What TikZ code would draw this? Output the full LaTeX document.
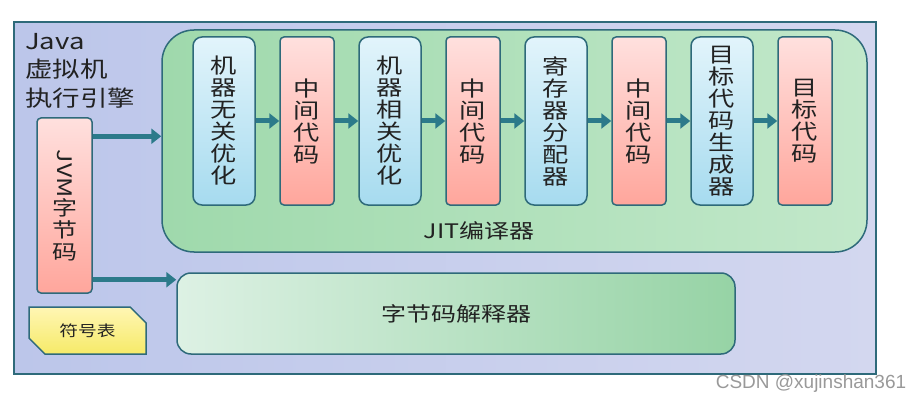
\documentclass[tikz,border=0pt]{standalone}
\usepackage{fontspec}
\usepackage{graphicx}
\setmainfont{Noto Sans CJK SC}[FakeStretch=1.25]
\newfontfamily\markfont{Liberation Sans}
\usetikzlibrary{arrows.meta,positioning,shapes.misc}

\definecolor{edgeteal}{HTML}{2E6A7A}
\definecolor{flowteal}{HTML}{2C7A8A}
\definecolor{engineL}{HTML}{BCC6EA}
\definecolor{engineR}{HTML}{D3D7EF}
\definecolor{jitL}{HTML}{9FD9AC}
\definecolor{jitR}{HTML}{C2E8CA}
\definecolor{pinkT}{HTML}{FFE0DE}
\definecolor{pinkB}{HTML}{FFA69C}
\definecolor{blueT}{HTML}{E2F4FB}
\definecolor{blueB}{HTML}{A6DBEF}
\definecolor{interpL}{HTML}{DDF1E4}
\definecolor{interpR}{HTML}{96D3A5}
\definecolor{symT}{HTML}{FFF6B4}
\definecolor{symB}{HTML}{F6EA68}
\definecolor{inktext}{HTML}{222222}

\begin{document}
\begin{tikzpicture}[
  x=1pt, y=-1pt,
  flow/.style={-{Triangle[length=10pt,width=15pt]}, line width=5pt, draw=flowteal},
  frame/.style={draw=edgeteal, line width=1.5pt, inner sep=0pt},
  stage/.style={frame, rounded corners=9pt, top color=blueT, bottom color=blueB,
                minimum width=62pt, minimum height=168pt, align=center,
                text=inktext, font=\fontsize{21}{22}\selectfont},
  code/.style={stage, rounded corners=4pt, top color=pinkT, bottom color=pinkB,
               minimum width=54pt},
  lab/.style={text=inktext, inner sep=0pt, font=\fontsize{20}{22}\selectfont}
]
\useasboundingbox (0,0) rectangle (922,404);

% ---------------------------------------------------------------------------
% Execution engine frame and the two paths
% ---------------------------------------------------------------------------
\node[frame, left color=engineL, right color=engineR,
      minimum width=862pt, minimum height=352pt] (engine) at (445,198) {};

\node[lab, anchor=north west, align=left, font=\fontsize{22}{28.5}\selectfont]
  (title) at (25,33) {Java\\虚拟机\\执行引擎};

\node[frame, rounded corners=32pt, left color=jitL, right color=jitR,
      minimum width=705pt, minimum height=222pt] (jit) at (514.5,141) {};
\node[lab] (jitname) at (479,231) {JIT编译器};

\node[frame, rounded corners=14pt, left color=interpL, right color=interpR,
      minimum width=558pt, minimum height=81pt, lab] (interp) at (456,313.5) {字节码解释器};

\node[code, minimum width=55pt, minimum height=175pt, font=\fontsize{20}{22}\selectfont]
  (jvm) at (64.5,205.5) {\rotatebox{-90}{JVM}\\字\\节\\码};

\node[frame, chamfered rectangle, chamfered rectangle corners={north east,south west},
      chamfered rectangle xsep=9pt, chamfered rectangle ysep=9pt,
      top color=symT, bottom color=symB, minimum width=117pt, minimum height=47pt,
      text=inktext, font=\fontsize{15}{17}\selectfont] (symtab) at (87.5,330.5) {符号表};

% ---------------------------------------------------------------------------
% JIT compiler stages
% ---------------------------------------------------------------------------
\node[stage] (b1) at (224,121) {机\\器\\无\\关\\优\\化};
\node[code, right=23.5pt of b1] (b2) {中\\间\\代\\码};
\node[stage, right=23.5pt of b2] (b3) {机\\器\\相\\关\\优\\化};
\node[code, right=23.5pt of b3] (b4) {中\\间\\代\\码};
\node[stage, right=23.5pt of b4] (b5) {寄\\存\\器\\分\\配\\器};
\node[code, right=23.5pt of b5] (b6) {中\\间\\代\\码};
\node[stage, right=23.5pt of b6] (b7) {目\\标\\代\\码\\生\\成\\器};
\node[code, right=23.5pt of b7] (b8) {目\\标\\代\\码};

% ---------------------------------------------------------------------------
% Arrows
% ---------------------------------------------------------------------------
\draw[flow] (b1) -- (b2);
\draw[flow] (b2) -- (b3);
\draw[flow] (b3) -- (b4);
\draw[flow] (b4) -- (b5);
\draw[flow] (b5) -- (b6);
\draw[flow] (b6) -- (b7);
\draw[flow] (b7) -- (b8);

\draw[flow] ([yshift=-19pt]jvm.north east) -- ([yshift=-19pt]jvm.north east -| jit.west);
\draw[flow] ([yshift=14pt]jvm.south east) -- ([yshift=14pt]jvm.south east -| interp.west);

\node[text=black!40, inner sep=0pt, font=\markfont\fontsize{19}{21}\selectfont]
  (mark) at (811,384) {CSDN @xujinshan361};

\end{tikzpicture}
\end{document}
